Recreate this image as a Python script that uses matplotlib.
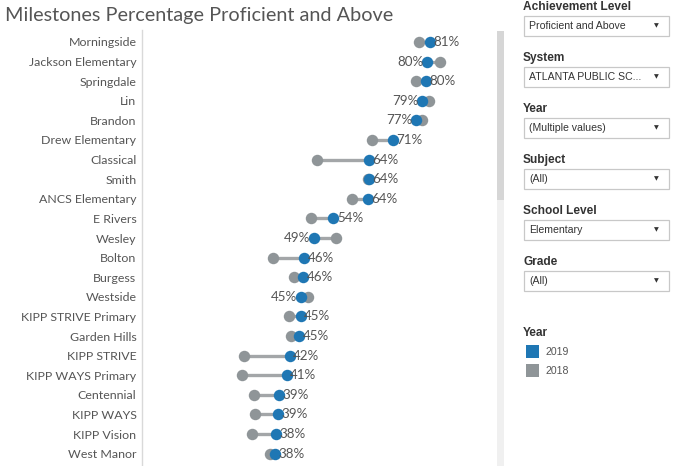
import matplotlib
matplotlib.use("Agg")
import matplotlib.pyplot as plt
from matplotlib.patches import Rectangle

schools = ["Morningside", "Jackson Elementary", "Springdale", "Lin", "Brandon",
           "Drew Elementary", "Classical", "Smith", "ANCS Elementary", "E Rivers",
           "Wesley", "Bolton", "Burgess", "Westside", "KIPP STRIVE Primary",
           "Garden Hills", "KIPP STRIVE", "KIPP WAYS Primary", "Centennial",
           "KIPP WAYS", "KIPP Vision", "West Manor"]
y2019 = [81.2, 80.3, 80.1, 78.9, 77.2, 71.0, 64.3, 64.2, 64.0, 54.4, 49.0,
         46.3, 46.1, 45.4, 45.3, 45.0, 42.3, 41.4, 39.3, 39.0, 38.4, 38.2]
y2018 = [78.2, 84.1, 77.2, 80.8, 79.0, 65.2, 49.8, 64.0, 59.7, 48.1, 55.1,
         37.6, 43.5, 47.3, 42.2, 42.6, 29.5, 29.1, 32.4, 32.6, 31.9, 36.8]
years = ["2019", "2018"]

filters = [("Achievement Level", "Proficient and Above"),
           ("System", "ATLANTA PUBLIC SC..."),
           ("Year", "(Multiple values)"),
           ("Subject", "(All)"),
           ("School Level", "Elementary"),
           ("Grade", "(All)")]

BLUE = "#1f77b4"
GRAY = "#8f9598"
LINE = "#a3a6a8"
W, H = 680, 466

fig = plt.figure(figsize=(W / 100, H / 100), dpi=100)
fig.patch.set_facecolor("white")

# main axes: pixels x 142..497, y 30..466
ax = fig.add_axes([142 / W, 0, (497 - 142) / W, (466 - 30) / H])
n = len(schools)
ypos = list(range(n))
ax.set_xlim(1.3, 99.8)
ax.set_ylim(21.63, -0.61)
for i in ypos:
    ax.plot([y2018[i], y2019[i]], [i, i], color=LINE, lw=2.4, zorder=1,
            solid_capstyle="butt")
ax.scatter(y2018, ypos, s=68, color=GRAY, zorder=2, linewidths=0)
ax.scatter(y2019, ypos, s=68, color=BLUE, zorder=3, linewidths=0)
for i in ypos:
    lab = f"{y2019[i]:.0f}%"
    if y2019[i] >= y2018[i]:
        ax.annotate(lab, (y2019[i], i), xytext=(2.5, 0), textcoords="offset points",
                    ha="left", va="center", fontsize=9.6, color="#555555",
                    family="Lato", zorder=4)
    else:
        ax.annotate(lab, (y2019[i], i), xytext=(-2.5, 0), textcoords="offset points",
                    ha="right", va="center", fontsize=9.6, color="#555555",
                    family="Lato", zorder=4)
ax.set_yticks(ypos)
ax.set_yticklabels(schools, fontsize=8.9, color="#555555", family="Lato")
ax.tick_params(axis="y", length=0, pad=4)
ax.set_xticks([])
for s in ["top", "right", "bottom"]:
    ax.spines[s].set_visible(False)
ax.spines["left"].set_color("#d9d9d9")
ax.spines["left"].set_linewidth(1)

# overlay for title and side panel, pixel coordinates
ov = fig.add_axes([0, 0, 1, 1], facecolor="none")
ov.set_xlim(0, W)
ov.set_ylim(H, 0)
ov.axis("off")

ov.text(5, 16, "Milestones Percentage Proficient and Above", fontsize=14.3,
        color="#555555", family="Lato", va="center", ha="left")

# scrollbar
ov.add_patch(Rectangle((497, 31), 7, 435, facecolor="#f0f0f0", edgecolor="none"))
ov.add_patch(Rectangle((497, 31), 7, 169, facecolor="#d6d6d6", edgecolor="none"))

# filters
for k, (title, val) in enumerate(filters):
    ty = 7 + k * 51
    ov.text(523, ty, title, fontsize=8.6, fontweight="bold", color="#333333",
            family="Liberation Sans", va="center", ha="left")
    by = ty + 9
    ov.add_patch(Rectangle((524, by), 145, 20, facecolor="white",
                           edgecolor="#c8c8c8", lw=0.9))
    ov.text(529, by + 10, val, fontsize=7.6, color="#333333",
            family="Liberation Sans", va="center", ha="left")
    ov.text(656, by + 9.5, "\u25BC", fontsize=4.5, color="#333333",
            family="DejaVu Sans", va="center", ha="center")

# legend
ov.text(523, 333, "Year", fontsize=8.6, fontweight="bold", color="#333333",
        family="Liberation Sans", va="center", ha="left")
for j, (yr, c) in enumerate(zip(years, [BLUE, GRAY])):
    yy = 352 + j * 19
    ov.add_patch(Rectangle((526, yy - 7), 13, 13, facecolor=c, edgecolor="none"))
    ov.text(545, yy, yr, fontsize=7.6, color="#555555",
            family="Liberation Sans", va="center", ha="left")

fig.savefig("out.png", dpi=100)
